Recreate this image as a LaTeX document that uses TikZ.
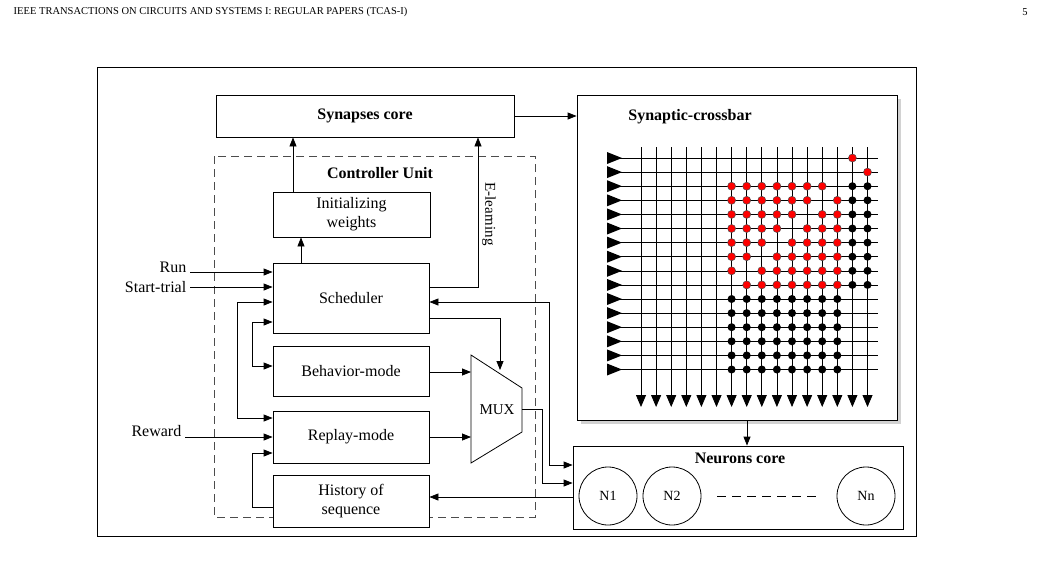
\documentclass[tikz,border=0pt]{standalone}
\usepackage{fontspec}
\setmainfont{Liberation Serif}
\usetikzlibrary{arrows.meta,calc}
\begin{document}
\begin{tikzpicture}[x=1pt,y=-1pt,>={Triangle[length=9pt,width=7pt]},line width=0.8pt]
	\tikzstyle{bloc}=[draw,fill=white,inner sep=0pt,font=\fontsize{16}{19}\selectfont,align=center]
	\tikzstyle{titre}=[font=\fontsize{16}{19}\selectfont\bfseries]
	\tikzstyle{neurone}=[draw,circle,minimum size=58pt,inner sep=0pt,font=\fontsize{14}{16}\selectfont]
	\useasboundingbox (0,0) rectangle (1041,571);
	\node[anchor=west,font=\fontsize{10.5}{12}\selectfont] (entete) at (10,12) {IEEE TRANSACTIONS ON CIRCUITS AND SYSTEMS I: REGULAR PAPERS (TCAS-I)};
	\node[font=\fontsize{10.5}{12}\selectfont] (page) at (1025,12) {5};
	\draw (97,67) rectangle (916,536); % cadre
	% controleur
	\draw[gray!60!black,line width=1pt,dash pattern=on 8pt off 5pt] (214,156) rectangle (535,517);
	\node[titre] (ctrl) at (380,173) {Controller Unit};
	\node[bloc,minimum width=298pt,minimum height=42pt] (syn) at (365,116) {\bfseries Synapses core};
	\node[bloc,minimum width=157pt,minimum height=45pt] (init) at (351.5,214.5) {Initializing\\weights};
	\node[bloc,minimum width=156pt,minimum height=70pt] (sched) at (351,298) {Scheduler};
	\node[bloc,minimum width=156pt,minimum height=50pt] (behav) at (351,371) {Behavior-mode};
	\node[bloc,minimum width=156pt,minimum height=52pt] (replay) at (351,437) {Replay-mode};
	\node[bloc,minimum width=156pt,minimum height=52pt] (hist) at (351,501) {History of\\sequence};
	% mux
	\draw (471,355) coordinate (m1) -- (522,388) -- (522,432) coordinate (mo) -- (471,463) -- cycle;
	\node[font=\fontsize{15}{17}\selectfont] (mux) at (497,410) {MUX};
	% crossbar
	\fill[gray!35] (581,99) rectangle (901,424);
	\node[bloc,minimum width=320pt,minimum height=325pt] (xbar) at (737,257.5) {};
	\node[titre] (xtitre) at (690,117) {Synaptic-crossbar};
	\foreach \c in {0,...,15}
		\draw[-{Triangle[length=12pt,width=10pt]},shorten >=-3pt] (641+15.1*\c,147) -- (641+15.1*\c,404);
	\foreach \r in {0,...,15}{
		\draw[line width=0.6pt] (618,158+14.1*\r) -- (878,158+14.1*\r);
		\fill (607,152+14.1*\r) -- (622,158+14.1*\r) -- (607,164+14.1*\r) -- cycle;
	}
	\foreach \r/\cols in {0/14,1/15,2/{6,7,8,9,10,11,12},3/{6,7,8,9,10,11,13},4/{6,7,8,9,10,12,13},
		5/{6,7,8,9,11,12,13},6/{6,7,8,10,11,12,13},7/{6,7,9,10,11,12,13},8/{6,8,9,10,11,12,13},9/{7,8,9,10,11,12,13}}
		\foreach \c in \cols
			\filldraw[fill=red,draw=black!70,line width=0.5pt] (641+15.1*\c,158+14.1*\r) circle (4pt);
	\foreach \r in {2,...,9}
		\foreach \c in {14,15}
			\fill (641+15.1*\c,158+14.1*\r) circle (4pt);
	\foreach \r in {10,...,15}
		\foreach \c in {6,...,13}
			\fill (641+15.1*\c,158+14.1*\r) circle (4pt);
	% neurones
	\node[bloc,minimum width=330pt,minimum height=83pt] (neur) at (738,487.5) {};
	\node[titre] (ntitre) at (740,458) {Neurons core};
	\node[neurone] (n1) at (608,496) {N1};
	\node[neurone] (n2) at (672,496) {N2};
	\node[neurone] (nn) at (866,496) {Nn};
	\draw[dash pattern=on 9pt off 6pt] ($(n2.east)+(16,0)$) -- ($(nn.west)+(-16,0)$);
	% entrees
	\node[anchor=east,font=\fontsize{16}{19}\selectfont] (run) at (190,267) {Run};
	\node[anchor=east,font=\fontsize{16}{19}\selectfont] (start) at (190,287) {Start-trial};
	\node[anchor=east,font=\fontsize{16}{19}\selectfont] (reward) at (185,431) {Reward};
	\draw[->] (run.east |- 0,272) -- (sched.west |- 0,272);
	\draw[->] (start.east |- 0,287) -- (sched.west |- 0,287);
	\draw[->] (reward.east |- 0,437) -- (replay.west |- 0,437);
	% liaisons
	\draw[->] (sched.north -| 301,0) -- (init.south -| 301,0);
	\draw[->] (init.north -| 293,0) -- (syn.south -| 293,0);
	\draw[->] (sched.east |- 0,287) -| (syn.south -| 478,0);
	\node[rotate=-90,font=\fontsize{15}{17}\selectfont] (elearn) at (489,214) {E-learning};
	\draw[->] (syn.east) -- (xbar.west |- syn.east);
	\draw[<->] (sched.west |- 0,302) -- (237,302) -- (237,418) -- (replay.west |- 0,418);
	\draw[<->] (sched.west |- 0,322) -- (252,322) -- (252,366) -- (behav.west |- 0,366);
	\draw[->] (hist.west |- 0,507) -- (252,507) -- (252,453) -- (replay.west |- 0,453);
	\draw[->] (sched.east |- 0,318) -- (500,318) -- (500,370);
	\draw[->] (behav.east |- 0,372) -- (471,372);
	\draw[->] (replay.east) -- (471,437);
	\draw[->] (mo |- 0,409) -- (542,409) -- (542,483) -- (neur.west |- 0,483);
	\draw[<->] (sched.east |- 0,302) -- (549,302) -- (549,465) -- (neur.west |- 0,465);
	\draw[->] (neur.west |- 0,497) -- (hist.east |- 0,497);
	\draw[->] (xbar.south -| 747,0) -- (neur.north -| 747,0);
\end{tikzpicture}
\end{document}
